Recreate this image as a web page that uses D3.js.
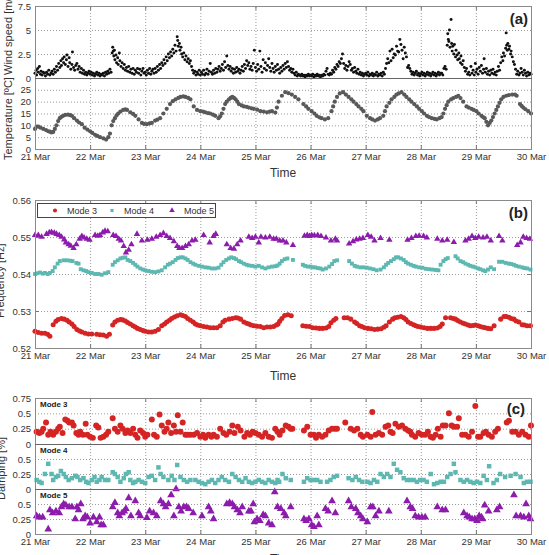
<!DOCTYPE html>
<html>
<head>
<meta charset="utf-8">
<script src="https://cdn.jsdelivr.net/npm/d3@7"></script>
<style>
  body { margin: 0; background: #fff; }
  svg { font-family: "Liberation Sans", Arial, sans-serif; }
  .grid line { stroke: #9a9a9a; stroke-dasharray: 1,2; }
  .grid .domain, .axis .domain, .marks .domain { display: none; }
  .axis text { font-size: 9.5px; fill: #333; }
  .marks line { stroke: #777; }
  .ylab { font-size: 11px; fill: #333; }
  .xlab { font-size: 12px; fill: #333; }
  .tag { font-size: 15px; font-weight: bold; fill: #222; }
  .mode { font-size: 8px; font-weight: bold; fill: #222; }
  .legend text { font-size: 9px; fill: #333; }
</style>
</head>
<body>
<svg id="chart" width="549" height="555"></svg>
<script>
// Time axis (days of March)
const dayTicks = [21, 22, 23, 24, 25, 26, 27, 28, 29, 30]
const dayLabels = ["21 Mar", "22 Mar", "23 Mar", "24 Mar", "25 Mar", "26 Mar", "27 Mar", "28 Mar", "29 Mar", "30 Mar"]

// Panel (a): wind speed and temperature
const windTicks = [0, 2.5, 5, 7.5]
const tempTicks = [0, 5, 10, 15, 20, 25]
const windSpeed = [
  [21.00,0.5],[21.02,0.8],[21.03,0.3],[21.05,1.0],[21.06,0.6],[21.08,1.2],[21.10,0.4],[21.11,0.7],[21.13,0.3],[21.15,0.6],
  [21.17,0.5],[21.19,0.2],[21.21,0.6],[21.23,0.4],[21.25,0.8],[21.27,0.3],[21.29,0.5],[21.31,0.7],[21.33,0.4],[21.35,0.9],
  [21.37,0.6],[21.39,1.2],[21.41,0.8],[21.43,1.5],[21.45,1.1],[21.47,1.8],[21.48,1.3],[21.50,2.0],[21.52,1.6],[21.53,2.2],
  [21.55,1.4],[21.57,1.9],[21.58,2.4],[21.60,1.2],[21.62,2.1],[21.63,1.6],[21.65,0.9],[21.67,1.4],[21.68,2.7],[21.70,1.1],
  [21.72,0.8],[21.74,1.3],[21.76,1.5],[21.78,0.9],[21.80,1.2],[21.82,0.6],[21.84,1.0],[21.86,0.5],[21.88,0.8],[21.90,0.4],
  [21.92,0.6],[21.94,0.3],[21.96,0.5],[21.98,0.7],
  [22.00,0.4],[22.02,0.6],[22.04,0.3],[22.06,0.5],[22.08,0.2],[22.10,0.4],[22.12,0.6],[22.14,0.3],[22.16,0.5],[22.18,0.2],
  [22.20,0.4],[22.22,0.3],[22.24,0.5],[22.26,0.2],[22.28,0.6],[22.30,0.4],[22.32,0.7],[22.34,0.5],[22.36,0.9],[22.38,0.6],
  [22.40,2.6],[22.41,3.2],[22.42,2.8],[22.43,2.3],[22.44,2.9],[22.45,1.9],[22.47,2.4],[22.48,1.6],[22.50,2.1],[22.51,1.4],
  [22.53,2.6],[22.54,1.8],[22.56,1.2],[22.58,1.6],[22.60,1.0],[22.62,1.4],[22.64,0.8],[22.66,1.1],[22.68,0.7],[22.70,1.2],
  [22.72,0.6],[22.74,0.9],[22.76,0.5],[22.78,1.0],[22.80,0.4],[22.82,0.8],[22.84,0.6],[22.86,1.0],[22.88,0.5],[22.90,0.9],
  [22.92,0.3],[22.94,0.7],[22.96,1.0],[22.98,0.5],
  [23.00,0.6],[23.02,0.3],[23.04,0.8],[23.06,0.5],[23.08,1.0],[23.10,0.4],[23.12,0.7],[23.14,0.9],[23.16,0.5],[23.18,1.0],
  [23.20,0.6],[23.22,1.2],[23.24,0.8],[23.26,1.4],[23.28,1.0],[23.30,1.6],[23.32,1.3],[23.34,1.9],[23.36,1.5],[23.38,2.2],
  [23.40,1.8],[23.42,2.5],[23.44,2.1],[23.46,2.7],[23.48,2.3],[23.50,3.0],[23.52,2.6],[23.54,3.4],[23.56,2.8],[23.58,4.3],
  [23.59,3.9],[23.60,3.3],[23.62,3.6],[23.63,2.9],[23.65,3.2],[23.66,2.5],[23.68,2.2],[23.70,2.6],[23.72,1.9],[23.74,2.3],
  [23.76,1.7],[23.78,2.0],[23.80,1.5],[23.82,1.8],[23.84,1.2],[23.86,0.8],[23.88,0.5],[23.90,0.7],[23.92,0.3],[23.94,0.6],
  [23.96,0.4],[23.98,0.8],
  [24.00,0.3],[24.02,0.6],[24.04,0.4],[24.06,0.8],[24.08,0.3],[24.10,0.5],[24.12,0.9],[24.14,0.4],[24.16,0.7],[24.18,1.5],
  [24.20,0.6],[24.22,0.4],[24.24,0.8],[24.26,0.5],[24.28,1.0],[24.30,0.6],[24.32,0.9],[24.34,1.2],[24.36,0.7],[24.38,1.0],
  [24.40,1.4],[24.42,0.8],[24.44,1.7],[24.46,1.1],[24.48,2.3],[24.50,1.3],[24.52,0.9],[24.54,1.2],[24.56,0.7],[24.58,1.0],
  [24.60,0.5],[24.62,0.9],[24.64,0.6],[24.66,1.1],[24.68,0.7],[24.70,0.9],[24.72,0.5],[24.74,0.8],[24.76,1.2],[24.78,0.7],
  [24.80,1.4],[24.82,1.0],[24.84,1.8],[24.86,1.3],[24.88,1.6],[24.90,0.9],[24.92,1.2],[24.94,0.8],[24.96,1.5],[24.98,2.9],
  [25.00,1.1],[25.02,0.7],[25.04,1.4],[25.06,0.9],[25.08,2.8],[25.10,1.2],[25.12,0.6],[25.14,1.9],[25.16,1.0],[25.18,1.6],
  [25.20,0.8],[25.22,1.3],[25.24,2.0],[25.26,1.1],[25.28,0.7],[25.30,1.5],[25.32,1.0],[25.34,0.6],[25.36,1.2],[25.38,0.8],
  [25.40,1.4],[25.42,0.9],[25.44,0.5],[25.46,1.1],[25.48,0.7],[25.50,1.3],[25.52,0.9],[25.54,1.5],[25.56,1.1],[25.58,1.7],
  [25.60,1.2],[25.62,0.8],[25.64,1.0],[25.66,0.6],[25.68,0.9],[25.70,0.5],[25.72,0.3],[25.74,0.6],[25.76,0.2],[25.78,0.4],
  [25.80,0.3],[25.82,0.2],[25.84,0.4],[25.86,0.2],[25.88,0.3],[25.90,0.1],[25.92,0.3],[25.94,0.2],[25.96,0.4],[25.98,0.2],
  [26.00,0.3],[26.02,0.2],[26.04,0.4],[26.06,0.1],[26.08,0.3],[26.10,0.2],[26.12,0.4],[26.14,0.2],[26.16,0.3],[26.18,0.1],
  [26.20,0.3],[26.22,0.2],[26.24,0.4],[26.26,0.3],[26.28,0.7],[26.30,1.0],[26.32,0.4],[26.34,0.3],[26.36,0.5],[26.38,0.4],
  [26.40,0.8],[26.42,0.6],[26.44,1.1],[26.46,0.9],[26.48,1.4],[26.50,1.2],[26.52,1.7],[26.54,1.5],[26.56,2.0],[26.58,2.5],
  [26.60,1.5],[26.62,1.0],[26.64,1.3],[26.66,0.8],[26.68,1.2],[26.70,1.7],[26.72,1.4],[26.74,0.8],[26.76,1.0],[26.78,0.6],
  [26.80,1.1],[26.82,0.7],[26.84,0.5],[26.86,0.9],[26.88,0.4],[26.90,0.6],[26.92,0.3],[26.94,0.5],[26.96,0.2],[26.98,0.4],
  [27.00,0.5],[27.02,0.3],[27.04,0.6],[27.06,0.2],[27.08,0.4],[27.10,0.3],[27.12,0.5],[27.14,0.2],[27.16,0.4],[27.18,0.3],
  [27.20,0.6],[27.22,0.2],[27.24,0.4],[27.26,0.3],[27.28,0.5],[27.30,0.2],[27.32,0.6],[27.34,0.4],[27.36,1.0],[27.38,1.5],
  [27.40,2.0],[27.42,1.6],[27.44,2.8],[27.46,1.8],[27.48,3.0],[27.50,2.1],[27.52,2.5],[27.54,2.4],[27.56,3.3],[27.58,2.8],
  [27.60,2.7],[27.62,4.0],[27.64,3.5],[27.66,2.9],[27.68,2.0],[27.70,3.2],[27.72,2.6],[27.74,2.2],[27.76,1.1],[27.78,1.3],
  [27.80,1.0],[27.82,0.7],[27.84,0.4],[27.86,0.6],[27.88,0.3],[27.90,0.5],[27.92,0.7],[27.94,0.3],[27.96,0.5],[27.98,0.2],
  [28.00,0.4],[28.02,0.6],[28.04,0.3],[28.06,0.5],[28.08,0.2],[28.10,0.4],[28.12,0.6],[28.14,0.3],[28.16,0.5],[28.18,0.2],
  [28.20,0.4],[28.22,0.6],[28.24,0.3],[28.26,0.5],[28.28,0.2],[28.30,0.4],[28.32,0.6],[28.34,0.3],[28.36,0.5],[28.38,0.5],
  [28.40,0.3],[28.42,1.0],[28.44,1.2],[28.46,0.9],[28.48,3.4],[28.49,4.6],[28.50,4.0],[28.51,3.8],[28.52,5.0],[28.53,3.2],
  [28.55,6.1],[28.56,3.6],[28.57,2.8],[28.58,3.3],[28.60,2.5],[28.61,3.5],[28.63,2.2],[28.64,2.9],[28.66,2.4],[28.67,1.9],
  [28.69,2.6],[28.70,2.0],[28.72,1.6],[28.73,2.3],[28.75,1.4],[28.77,1.8],[28.79,1.1],[28.81,0.7],[28.83,1.0],[28.85,0.4],
  [28.87,0.6],[28.89,0.3],[28.91,1.2],[28.93,0.5],[28.95,0.8],[28.97,0.3],[28.99,1.5],
  [29.00,0.6],[29.02,0.9],[29.04,0.4],[29.06,1.1],[29.08,0.7],[29.10,1.3],[29.12,0.5],[29.14,0.9],[29.15,2.0],[29.17,0.6],
  [29.19,1.0],[29.21,0.4],[29.23,0.7],[29.25,0.3],[29.27,0.8],[29.29,0.5],[29.31,0.9],[29.33,0.4],[29.35,0.6],[29.37,0.3],
  [29.39,0.7],[29.41,1.2],[29.43,0.8],[29.45,1.6],[29.47,2.2],[29.49,1.8],[29.50,2.6],[29.52,2.3],[29.54,3.1],[29.55,4.7],
  [29.56,3.4],[29.57,2.9],[29.58,3.6],[29.60,3.0],[29.61,3.3],[29.63,2.5],[29.64,2.8],[29.66,2.2],[29.68,1.7],[29.70,1.4],
  [29.72,0.9],[29.74,0.4],[29.76,0.7],[29.78,0.3],[29.80,0.5],[29.82,1.0],[29.84,0.6],[29.86,0.3],[29.88,0.8],[29.90,0.5],
  [29.92,0.2],[29.94,0.6],[29.96,0.3],[29.98,0.5],[30.00,0.4]
]
const temperature = [
  [21.00,8.5],[21.03,9.5],[21.06,9.5],[21.10,9],[21.15,8.5],[21.20,8],[21.24,7.5],[21.27,7.3],[21.30,7],[21.33,7.2],
  [21.36,8.5],[21.39,10],[21.42,11.8],[21.45,13],[21.48,13.6],[21.51,14],[21.55,14.4],[21.60,14.5],[21.64,14.3],[21.67,14],
  [21.71,13],[21.76,12],[21.80,11.2],[21.85,10.5],[21.90,9],[21.95,8.2],[22.00,7.5],[22.04,6.8],[22.09,6],[22.13,5.5],
  [22.18,5],[22.24,4.5],[22.29,4],[22.33,5],[22.36,6.5],[22.39,10],[22.42,11.8],[22.45,13],[22.48,14.2],[22.51,15],
  [22.55,15.8],[22.60,16.5],[22.64,16.7],[22.67,16.5],[22.73,15.5],[22.78,14.8],[22.82,14],[22.88,12.5],[22.94,11],[22.98,10.6],
  [23.03,10.5],[23.08,10.8],[23.12,11],[23.18,12],[23.22,12.4],[23.27,13],[23.33,15],[23.39,17],[23.45,19],[23.50,20.2],
  [23.55,21],[23.60,21.6],[23.64,22],[23.69,22.2],[23.73,22],[23.78,21.6],[23.82,21],[23.88,18],[23.94,16.5],[24.00,16],
  [24.05,15.8],[24.09,15.5],[24.14,15.2],[24.18,15],[24.23,14.5],[24.27,14],[24.33,13],[24.36,13.8],[24.39,15],[24.42,17],
  [24.45,19],[24.48,20],[24.52,21],[24.55,21.6],[24.58,22],[24.61,21.6],[24.64,21],[24.67,20],[24.70,19],[24.75,18.4],
  [24.79,18],[24.84,17.8],[24.88,17.5],[24.93,17.2],[24.97,17],[25.03,16.6],[25.09,16],[25.15,15.8],[25.21,15.5],[25.26,15.8],
  [25.30,16],[25.36,15.4],[25.39,17.5],[25.42,20],[25.48,22.5],[25.54,24],[25.60,23.6],[25.66,23],[25.72,22],[25.78,21],
  [25.87,19],[25.92,18],[25.96,17],[26.02,16],[26.07,15],[26.11,14],[26.16,13.4],[26.20,13],[26.26,12.5],[26.32,13],
  [26.38,16],[26.41,18],[26.44,20],[26.48,22],[26.53,23.5],[26.59,24],[26.64,23],[26.69,22],[26.74,21],[26.78,20],
  [26.83,19],[26.87,18],[26.92,17],[26.96,16],[27.02,14],[27.08,13],[27.12,12.5],[27.17,12],[27.22,12.5],[27.26,13],
  [27.32,14],[27.35,16],[27.38,18],[27.43,19.5],[27.47,21],[27.52,22],[27.56,23],[27.60,23.5],[27.65,24],[27.70,23],
  [27.74,22],[27.79,21],[27.83,20],[27.88,19],[27.93,18],[27.97,17],[28.02,16],[28.06,15],[28.11,14],[28.15,13.5],
  [28.20,13],[28.25,12.7],[28.29,12.5],[28.34,13],[28.38,13.5],[28.41,15],[28.44,17],[28.47,18.5],[28.50,20],[28.55,21],
  [28.59,21.5],[28.64,22],[28.68,22.5],[28.72,21.5],[28.77,20],[28.83,18],[28.87,17.5],[28.92,17],[28.96,16.5],[29.01,16],
  [29.05,15],[29.10,14],[29.13,13.5],[29.16,13],[29.19,11.5],[29.22,10],[29.25,11],[29.28,12],[29.31,13.5],[29.34,15],
  [29.37,16.5],[29.40,18],[29.43,19.5],[29.46,21],[29.50,22],[29.55,22.5],[29.60,22.8],[29.66,23],[29.71,23],[29.74,22.5],
  [29.80,19],[29.83,18.2],[29.86,17.5],[29.90,16.8],[29.95,16],[30.00,15]
]

// Panel (b): natural frequencies [Hz]
const freqTicks = [0.52, 0.53, 0.54, 0.55, 0.56]
const modeNames = ["Mode 3", "Mode 4", "Mode 5"]
const freqMode3 = [
  [21.00,0.5245],[21.06,0.5242],[21.12,0.5240],[21.18,0.5240],[21.23,0.5237],[21.27,0.5232],[21.33,0.5263],[21.38,0.5272],
  [21.42,0.5277],[21.48,0.5280],[21.53,0.5278],[21.58,0.5275],[21.62,0.5270],[21.67,0.5265],[21.71,0.5258],[21.76,0.5250],
  [21.81,0.5246],[21.85,0.5243],[21.91,0.5240],[21.97,0.5238],[22.03,0.5238],[22.12,0.5237],[22.18,0.5236],[22.24,0.5235],
  [22.30,0.5232],[22.35,0.5237],[22.41,0.5262],[22.45,0.5270],[22.50,0.5275],[22.55,0.5277],[22.59,0.5276],[22.64,0.5273],
  [22.68,0.5269],[22.73,0.5265],[22.78,0.5260],[22.82,0.5257],[22.86,0.5253],[22.91,0.5250],[22.96,0.5247],[23.00,0.5245],
  [23.06,0.5243],[23.12,0.5243],[23.18,0.5245],[23.24,0.5250],[23.30,0.5260],[23.35,0.5265],[23.39,0.5270],[23.44,0.5275],
  [23.48,0.5280],[23.53,0.5284],[23.58,0.5287],[23.64,0.5290],[23.68,0.5288],[23.73,0.5285],[23.77,0.5280],[23.82,0.5275],
  [23.87,0.5270],[23.91,0.5265],[23.95,0.5262],[24.00,0.5260],[24.06,0.5258],[24.12,0.5257],[24.18,0.5255],[24.24,0.5255],
  [24.30,0.5255],[24.36,0.5260],[24.41,0.5270],[24.45,0.5275],[24.52,0.5278],[24.58,0.5280],[24.64,0.5282],[24.68,0.5281],
  [24.73,0.5278],[24.79,0.5270],[24.84,0.5267],[24.88,0.5265],[24.92,0.5262],[24.97,0.5260],[25.03,0.5259],[25.09,0.5258],
  [25.15,0.5255],[25.21,0.5257],[25.27,0.5257],[25.33,0.5258],[25.38,0.5262],[25.41,0.5265],[25.44,0.5272],[25.48,0.5280],
  [25.53,0.5288],[25.59,0.5290],[25.65,0.5287],[25.86,0.5260],[25.92,0.5259],[25.98,0.5258],[26.04,0.5255],[26.10,0.5254],
  [26.16,0.5253],[26.22,0.5253],[26.28,0.5254],[26.33,0.5258],[26.37,0.5268],[26.42,0.5275],[26.46,0.5280],[26.61,0.5282],
  [26.67,0.5282],[26.73,0.5278],[26.80,0.5270],[26.84,0.5266],[26.89,0.5260],[26.93,0.5258],[26.98,0.5255],[27.04,0.5253],
  [27.10,0.5252],[27.16,0.5250],[27.22,0.5251],[27.28,0.5252],[27.33,0.5256],[27.37,0.5260],[27.43,0.5270],[27.49,0.5278],
  [27.53,0.5282],[27.58,0.5283],[27.64,0.5285],[27.69,0.5282],[27.73,0.5277],[27.77,0.5270],[27.82,0.5266],[27.87,0.5263],
  [27.91,0.5260],[27.95,0.5258],[28.00,0.5257],[28.06,0.5255],[28.12,0.5253],[28.18,0.5253],[28.24,0.5253],[28.30,0.5254],
  [28.35,0.5258],[28.39,0.5265],[28.45,0.5282],[28.54,0.5282],[28.59,0.5280],[28.63,0.5278],[28.67,0.5274],[28.72,0.5270],
  [28.77,0.5267],[28.81,0.5265],[28.86,0.5262],[28.90,0.5260],[28.95,0.5261],[28.99,0.5262],[29.04,0.5260],[29.08,0.5258],
  [29.13,0.5256],[29.17,0.5255],[29.22,0.5253],[29.27,0.5252],[29.33,0.5260],[29.45,0.5278],[29.51,0.5285],[29.55,0.5285],
  [29.60,0.5283],[29.64,0.5280],[29.69,0.5278],[29.73,0.5273],[29.78,0.5270],[29.84,0.5263],[29.88,0.5262],[29.93,0.5260],
  [29.99,0.5260]
]
const freqMode4 = [
  [21.00,0.5400],[21.04,0.5402],[21.09,0.5404],[21.14,0.5401],[21.18,0.5403],[21.23,0.5400],[21.27,0.5403],[21.32,0.5408],
  [21.36,0.5418],[21.41,0.5428],[21.45,0.5435],[21.52,0.5437],[21.58,0.5437],[21.64,0.5436],[21.68,0.5435],[21.75,0.5430],
  [21.79,0.5428],[21.83,0.5413],[21.88,0.5410],[21.93,0.5408],[21.97,0.5405],[22.03,0.5403],[22.09,0.5400],[22.15,0.5400],
  [22.21,0.5398],[22.27,0.5402],[22.33,0.5405],[22.41,0.5425],[22.45,0.5432],[22.50,0.5437],[22.55,0.5442],[22.59,0.5444],
  [22.64,0.5445],[22.68,0.5438],[22.73,0.5435],[22.78,0.5430],[22.82,0.5425],[22.86,0.5420],[22.91,0.5415],[22.96,0.5412],
  [23.00,0.5410],[23.06,0.5408],[23.12,0.5406],[23.18,0.5405],[23.24,0.5407],[23.30,0.5410],[23.36,0.5418],[23.41,0.5425],
  [23.45,0.5428],[23.50,0.5432],[23.55,0.5438],[23.59,0.5443],[23.64,0.5445],[23.68,0.5445],[23.73,0.5442],[23.77,0.5438],
  [23.82,0.5432],[23.87,0.5428],[23.91,0.5425],[23.97,0.5422],[24.03,0.5420],[24.09,0.5418],[24.15,0.5417],[24.21,0.5415],
  [24.27,0.5415],[24.33,0.5417],[24.38,0.5425],[24.42,0.5432],[24.47,0.5438],[24.52,0.5442],[24.56,0.5445],[24.61,0.5443],
  [24.65,0.5440],[24.70,0.5435],[24.74,0.5432],[24.79,0.5428],[24.84,0.5425],[24.88,0.5423],[24.94,0.5422],[25.00,0.5420],
  [25.06,0.5422],[25.12,0.5418],[25.18,0.5415],[25.24,0.5418],[25.30,0.5420],[25.36,0.5421],[25.40,0.5423],[25.44,0.5428],
  [25.48,0.5435],[25.53,0.5440],[25.58,0.5442],[25.68,0.5438],[25.86,0.5425],[25.90,0.5422],[25.95,0.5420],[26.00,0.5420],
  [26.04,0.5418],[26.08,0.5418],[26.13,0.5416],[26.18,0.5415],[26.22,0.5412],[26.28,0.5415],[26.34,0.5420],[26.39,0.5427],
  [26.43,0.5435],[26.48,0.5437],[26.70,0.5435],[26.75,0.5428],[26.80,0.5422],[26.84,0.5420],[26.90,0.5418],[26.96,0.5418],
  [27.02,0.5417],[27.08,0.5415],[27.14,0.5413],[27.20,0.5410],[27.27,0.5412],[27.33,0.5418],[27.37,0.5425],[27.41,0.5430],
  [27.46,0.5435],[27.51,0.5440],[27.55,0.5445],[27.59,0.5445],[27.64,0.5442],[27.69,0.5438],[27.73,0.5432],[27.77,0.5428],
  [27.82,0.5425],[27.87,0.5422],[27.91,0.5420],[27.97,0.5418],[28.03,0.5417],[28.09,0.5414],[28.15,0.5413],[28.21,0.5412],
  [28.27,0.5411],[28.32,0.5410],[28.36,0.5425],[28.41,0.5435],[28.45,0.5440],[28.49,0.5443],[28.63,0.5448],[28.67,0.5442],
  [28.72,0.5435],[28.77,0.5432],[28.81,0.5428],[28.86,0.5425],[28.90,0.5422],[28.95,0.5420],[28.99,0.5418],[29.04,0.5415],
  [29.08,0.5413],[29.13,0.5410],[29.17,0.5408],[29.22,0.5412],[29.27,0.5418],[29.33,0.5413],[29.42,0.5433],[29.48,0.5433],
  [29.54,0.5430],[29.60,0.5428],[29.64,0.5427],[29.69,0.5425],[29.73,0.5422],[29.78,0.5420],[29.84,0.5418],[29.88,0.5416],
  [29.93,0.5415],[29.99,0.5412]
]
const freqMode5 = [
  [21.00,0.5505],[21.06,0.5505],[21.12,0.5500],[21.21,0.5508],[21.26,0.5512],[21.30,0.5513],[21.35,0.5511],[21.39,0.5508],
  [21.44,0.5505],[21.48,0.5500],[21.53,0.5493],[21.56,0.5485],[21.61,0.5480],[21.65,0.5476],[21.70,0.5470],[21.75,0.5480],
  [21.81,0.5495],[21.85,0.5502],[21.89,0.5498],[21.94,0.5495],[21.99,0.5492],[22.09,0.5505],[22.14,0.5503],[22.18,0.5505],
  [22.23,0.5512],[22.27,0.5516],[22.32,0.5515],[22.42,0.5505],[22.47,0.5502],[22.52,0.5495],[22.56,0.5490],[22.61,0.5475],
  [22.65,0.5458],[22.70,0.5465],[22.75,0.5480],[22.85,0.5508],[22.94,0.5490],[23.04,0.5492],[23.12,0.5495],[23.20,0.5500],
  [23.27,0.5505],[23.33,0.5510],[23.39,0.5502],[23.45,0.5497],[23.52,0.5488],[23.58,0.5475],[23.62,0.5470],[23.67,0.5470],
  [23.73,0.5475],[23.79,0.5480],[23.85,0.5490],[23.91,0.5492],[24.06,0.5505],[24.17,0.5485],[24.24,0.5502],[24.28,0.5508],
  [24.48,0.5480],[24.55,0.5470],[24.61,0.5468],[24.67,0.5480],[24.73,0.5490],[24.88,0.5500],[24.94,0.5497],[25.00,0.5500],
  [25.06,0.5485],[25.10,0.5500],[25.18,0.5498],[25.26,0.5500],[25.33,0.5495],[25.38,0.5495],[25.44,0.5490],[25.50,0.5490],
  [25.56,0.5485],[25.68,0.5478],[25.89,0.5503],[25.94,0.5505],[25.98,0.5502],[26.02,0.5505],[26.07,0.5504],[26.13,0.5505],
  [26.19,0.5502],[26.28,0.5498],[26.37,0.5490],[26.45,0.5495],[26.48,0.5490],[26.70,0.5482],[26.77,0.5488],[26.83,0.5493],
  [26.89,0.5495],[26.95,0.5497],[27.04,0.5505],[27.10,0.5500],[27.16,0.5490],[27.27,0.5497],[27.43,0.5492],[27.76,0.5492],
  [27.83,0.5497],[27.91,0.5502],[27.97,0.5503],[28.05,0.5502],[28.11,0.5498],[28.30,0.5495],[28.39,0.5490],[28.48,0.5492],
  [28.60,0.5486],[28.81,0.5490],[28.87,0.5495],[28.93,0.5502],[28.99,0.5497],[29.05,0.5500],[29.13,0.5498],[29.20,0.5500],
  [29.27,0.5490],[29.42,0.5502],[29.48,0.5490],[29.75,0.5478],[29.81,0.5485],[29.86,0.5500],[29.92,0.5497],[29.98,0.5495]
]

// Panel (c): damping ratios [%]
const dampTicks = [0, 0.25, 0.5, 0.75]
const dampMode3 = [
  [21.03,0.2],[21.08,0.18],[21.12,0.2],[21.15,0.25],[21.20,0.35],[21.24,0.15],[21.28,0.2],[21.33,0.15],[21.38,0.2],[21.42,0.25],
  [21.45,0.28],[21.50,0.18],[21.55,0.4],[21.59,0.38],[21.62,0.35],[21.67,0.35],[21.70,0.3],[21.75,0.18],[21.79,0.15],[21.82,0.2],
  [21.87,0.15],[21.92,0.33],[21.95,0.15],[22.00,0.12],[22.05,0.1],[22.11,0.3],[22.15,0.27],[22.19,0.1],[22.24,0.12],[22.29,0.15],
  [22.33,0.2],[22.41,0.42],[22.45,0.25],[22.50,0.2],[22.55,0.3],[22.59,0.25],[22.64,0.18],[22.68,0.22],[22.73,0.18],[22.78,0.25],
  [22.82,0.15],[22.86,0.1],[22.91,0.22],[22.96,0.18],[23.00,0.12],[23.04,0.15],[23.12,0.4],[23.16,0.15],[23.21,0.12],[23.26,0.48],
  [23.30,0.3],[23.35,0.2],[23.39,0.25],[23.42,0.35],[23.47,0.18],[23.52,0.3],[23.56,0.2],[23.59,0.47],[23.64,0.2],[23.68,0.35],
  [23.73,0.15],[23.77,0.15],[23.82,0.15],[23.88,0.15],[23.94,0.18],[24.00,0.12],[24.05,0.15],[24.09,0.1],[24.15,0.15],[24.20,0.12],
  [24.24,0.15],[24.30,0.12],[24.36,0.25],[24.42,0.18],[24.47,0.15],[24.53,0.2],[24.58,0.3],[24.62,0.18],[24.68,0.28],[24.73,0.22],
  [24.80,0.12],[24.85,0.18],[24.90,0.15],[24.95,0.2],[25.00,0.18],[25.06,0.15],[25.12,0.12],[25.18,0.18],[25.24,0.12],[25.30,0.1],
  [25.36,0.25],[25.40,0.2],[25.44,0.15],[25.49,0.22],[25.55,0.3],[25.60,0.28],[25.64,0.25],[25.67,0.25],[25.88,0.22],[25.94,0.28],
  [26.00,0.15],[26.06,0.15],[26.10,0.1],[26.15,0.15],[26.21,0.12],[26.27,0.15],[26.33,0.22],[26.39,0.25],[26.44,0.25],[26.48,0.25],
  [26.63,0.35],[26.73,0.25],[26.79,0.22],[26.85,0.25],[26.91,0.15],[26.95,0.12],[27.03,0.15],[27.09,0.12],[27.12,0.52],[27.18,0.15],
  [27.24,0.18],[27.30,0.15],[27.36,0.28],[27.41,0.3],[27.45,0.2],[27.49,0.18],[27.54,0.33],[27.60,0.28],[27.66,0.3],[27.72,0.25],
  [27.77,0.22],[27.81,0.2],[27.84,0.15],[27.90,0.12],[27.96,0.18],[28.02,0.15],[28.08,0.15],[28.13,0.2],[28.18,0.12],[28.22,0.1],
  [28.27,0.15],[28.31,0.25],[28.36,0.12],[28.40,0.3],[28.45,0.3],[28.51,0.5],[28.56,0.3],[28.60,0.28],[28.66,0.28],[28.69,0.42],
  [28.75,0.15],[28.81,0.15],[28.87,0.12],[28.93,0.2],[28.99,0.62],[29.04,0.12],[29.08,0.12],[29.14,0.18],[29.18,0.2],[29.23,0.15],
  [29.29,0.12],[29.35,0.2],[29.40,0.25],[29.56,0.35],[29.60,0.38],[29.66,0.2],[29.72,0.2],[29.78,0.15],[29.84,0.2],[29.90,0.15],
  [29.96,0.12],[30.00,0.3]
]
const dampMode4 = [
  [21.03,0.15],[21.08,0.12],[21.12,0.1],[21.18,0.25],[21.24,0.42],[21.30,0.25],[21.33,0.15],[21.38,0.2],[21.42,0.22],[21.47,0.3],
  [21.52,0.25],[21.56,0.2],[21.61,0.15],[21.67,0.18],[21.73,0.22],[21.77,0.2],[21.82,0.15],[21.88,0.18],[21.93,0.12],[21.97,0.1],
  [22.03,0.15],[22.08,0.2],[22.12,0.12],[22.17,0.15],[22.21,0.2],[22.27,0.15],[22.33,0.15],[22.41,0.28],[22.45,0.25],[22.50,0.2],
  [22.55,0.12],[22.61,0.18],[22.65,0.25],[22.70,0.28],[22.73,0.15],[22.78,0.1],[22.82,0.12],[22.88,0.15],[22.94,0.12],[23.00,0.1],
  [23.06,0.2],[23.12,0.22],[23.18,0.15],[23.24,0.36],[23.28,0.25],[23.33,0.2],[23.42,0.15],[23.48,0.22],[23.53,0.15],[23.58,0.4],
  [23.64,0.2],[23.70,0.15],[23.76,0.12],[23.82,0.15],[23.91,0.15],[23.97,0.12],[24.03,0.1],[24.09,0.08],[24.15,0.12],[24.21,0.15],
  [24.27,0.1],[24.33,0.15],[24.39,0.2],[24.45,0.15],[24.52,0.12],[24.58,0.25],[24.64,0.2],[24.70,0.15],[24.76,0.12],[24.82,0.18],
  [24.88,0.12],[24.94,0.1],[25.00,0.12],[25.06,0.15],[25.12,0.12],[25.18,0.1],[25.24,0.15],[25.30,0.12],[25.36,0.1],[25.40,0.15],
  [25.43,0.12],[25.49,0.25],[25.55,0.18],[25.64,0.15],[25.88,0.12],[25.94,0.18],[26.00,0.15],[26.06,0.15],[26.12,0.15],[26.18,0.12],
  [26.30,0.12],[26.36,0.15],[26.42,0.2],[26.48,0.22],[26.69,0.18],[26.76,0.15],[26.82,0.2],[26.88,0.15],[26.94,0.12],[27.03,0.12],
  [27.09,0.1],[27.15,0.15],[27.21,0.12],[27.27,0.25],[27.33,0.2],[27.39,0.25],[27.45,0.2],[27.51,0.42],[27.57,0.32],[27.63,0.28],
  [27.69,0.18],[27.75,0.15],[27.81,0.15],[27.87,0.15],[27.93,0.12],[27.99,0.15],[28.05,0.15],[28.11,0.12],[28.18,0.25],[28.24,0.08],
  [28.30,0.1],[28.36,0.12],[28.42,0.12],[28.48,0.2],[28.54,0.25],[28.60,0.42],[28.63,0.28],[28.72,0.15],[28.78,0.12],[28.84,0.15],
  [28.90,0.12],[28.96,0.1],[29.02,0.12],[29.08,0.1],[29.14,0.22],[29.20,0.15],[29.24,0.38],[29.32,0.1],[29.38,0.15],[29.44,0.25],
  [29.53,0.2],[29.63,0.22],[29.72,0.25],[29.81,0.2],[29.87,0.1],[29.93,0.12],[29.99,0.12]
]
const dampMode5 = [
  [21.03,0.3],[21.08,0.28],[21.14,0.28],[21.24,0.08],[21.27,0.4],[21.32,0.35],[21.38,0.38],[21.44,0.35],[21.48,0.45],[21.52,0.5],
  [21.56,0.48],[21.62,0.45],[21.67,0.45],[21.73,0.25],[21.76,0.45],[21.79,0.4],[21.83,0.5],[21.87,0.25],[21.91,0.3],[21.95,0.28],
  [22.00,0.18],[22.06,0.28],[22.12,0.2],[22.17,0.28],[22.20,0.15],[22.24,0.15],[22.41,0.45],[22.45,0.52],[22.50,0.35],[22.53,0.3],
  [22.58,0.35],[22.62,0.38],[22.65,0.42],[22.70,0.6],[22.74,0.3],[22.82,0.55],[22.88,0.35],[22.91,0.3],[23.03,0.27],[23.08,0.38],
  [23.15,0.35],[23.21,0.3],[23.28,0.55],[23.33,0.5],[23.37,0.45],[23.42,0.5],[23.47,0.65],[23.52,0.3],[23.56,0.75],[23.61,0.45],
  [23.65,0.38],[23.70,0.45],[23.75,0.45],[23.79,0.42],[23.87,0.35],[24.03,0.3],[24.15,0.45],[24.19,0.38],[24.24,0.25],[24.48,0.5],
  [24.53,0.52],[24.58,0.5],[24.62,0.45],[24.67,0.4],[24.72,0.35],[24.76,0.45],[24.88,0.38],[24.92,0.38],[24.96,0.5],[24.98,0.2],
  [25.03,0.25],[25.08,0.22],[25.14,0.32],[25.18,0.3],[25.24,0.18],[25.30,0.15],[25.35,0.7],[25.40,0.45],[25.46,0.42],[25.52,0.35],
  [25.55,0.3],[25.64,0.45],[25.88,0.25],[25.92,0.22],[25.97,0.25],[26.02,0.15],[26.06,0.12],[26.12,0.3],[26.15,0.15],[26.27,0.42],
  [26.32,0.38],[26.39,0.55],[26.45,0.35],[26.69,0.55],[26.74,0.45],[26.82,0.42],[26.86,0.35],[26.91,0.3],[26.95,0.25],[27.03,0.2],
  [27.09,0.45],[27.13,0.45],[27.18,0.3],[27.24,0.38],[27.42,0.38],[27.75,0.55],[27.81,0.45],[27.85,0.42],[27.90,0.3],[27.96,0.28],
  [28.02,0.28],[28.08,0.28],[28.30,0.45],[28.39,0.4],[28.45,0.4],[28.78,0.35],[28.84,0.3],[28.88,0.28],[28.93,0.25],[28.98,0.25],
  [29.02,0.22],[29.06,0.3],[29.10,0.28],[29.12,0.25],[29.16,0.48],[29.23,0.38],[29.38,0.4],[29.43,0.45],[29.69,0.65],[29.73,0.3],
  [29.81,0.3],[29.87,0.28],[29.91,0.5],[29.96,0.3],[29.99,0.25]
]

const colors = ["#d42424", "#5cb8b0", "#8c1cab"]
const svg = d3.select("#chart")
const left = 35, right = 531

// Shared time scale
const x = d3.scaleLinear().domain([21, 30]).range([left, right])

// Panel scales
const yWind = d3.scaleLinear().domain([0, 7.5]).range([78, 6])
const yTemp = d3.scaleLinear().domain([0, 30]).range([149, 78])
const yFreq = d3.scaleLinear().domain([0.52, 0.56]).range([348, 200])
const yDamp = [
  d3.scaleLinear().domain([0, 0.75]).range([444, 398]),
  d3.scaleLinear().domain([0, 0.75]).range([489, 444]),
  d3.scaleLinear().domain([0, 0.75]).range([534, 489])
]

// Dotted grid lines
function dayGrid(top, bottom) {
  svg.append("g").attr("class", "grid")
    .attr("transform", `translate(0,${bottom})`)
    .call(d3.axisBottom(x).tickValues(dayTicks.slice(1, -1)).tickSize(-(bottom - top)).tickFormat(""))
}
function valueGrid(y, values) {
  svg.append("g").attr("class", "grid")
    .attr("transform", `translate(${left},0)`)
    .call(d3.axisLeft(y).tickValues(values).tickSize(-(right - left)).tickFormat(""))
}

// Small inward tick marks on the frame
function frameTicks(top, bottom, y, values) {
  svg.append("g").attr("class", "marks").attr("transform", `translate(0,${bottom})`)
    .call(d3.axisBottom(x).tickValues(dayTicks).tickSize(-4).tickFormat(""))
  svg.append("g").attr("class", "marks").attr("transform", `translate(0,${top})`)
    .call(d3.axisTop(x).tickValues(dayTicks).tickSize(-4).tickFormat(""))
  if (y) {
    svg.append("g").attr("class", "marks").attr("transform", `translate(${left},0)`)
      .call(d3.axisLeft(y).tickValues(values).tickSize(-4).tickFormat(""))
    svg.append("g").attr("class", "marks").attr("transform", `translate(${right},0)`)
      .call(d3.axisRight(y).tickValues(values).tickSize(-4).tickFormat(""))
  }
}

function yLabels(y, values, fmt) {
  svg.append("g").attr("class", "axis")
    .attr("transform", `translate(${left},0)`)
    .call(d3.axisLeft(y).tickValues(values).tickSize(0).tickPadding(4).tickFormat(fmt))
}
function xLabels(bottom) {
  svg.append("g").attr("class", "axis")
    .attr("transform", `translate(0,${bottom})`)
    .call(d3.axisBottom(x).tickValues(dayTicks).tickSize(0).tickPadding(4).tickFormat((d, i) => dayLabels[i]))
}
function frame(top, bottom) {
  svg.append("rect")
    .attr("x", left + 0.5).attr("y", top + 0.5)
    .attr("width", right - left).attr("height", bottom - top)
    .attr("fill", "none").attr("stroke", "#8a8a8a")
}
function divider(yPos) {
  svg.append("line")
    .attr("x1", left).attr("x2", right + 1)
    .attr("y1", yPos + 0.5).attr("y2", yPos + 0.5)
    .attr("stroke", "#666")
}
function points(data, y, type, size, color) {
  svg.append("g").selectAll("path")
    .data(data)
    .join("path")
    .attr("transform", d => `translate(${x(d[0])},${y(d[1])})`)
    .attr("d", d3.symbol().type(type).size(size))
    .attr("fill", color)
}
function yTitle(text, xPos, yStart) {
  svg.append("text").attr("class", "ylab")
    .attr("transform", `translate(${xPos},${yStart}) rotate(-90)`)
    .text(text)
}
function xTitle(yPos) {
  svg.append("text").attr("class", "xlab")
    .attr("x", (left + right) / 2).attr("y", yPos)
    .attr("text-anchor", "middle").text("Time")
}
function tag(text, xPos, yPos) {
  svg.append("text").attr("class", "tag")
    .attr("x", xPos).attr("y", yPos).attr("text-anchor", "end").text(text)
}

/*** Panel (a) ***/
dayGrid(6, 149)
valueGrid(yWind, [2.5, 5])
valueGrid(yTemp, [5, 10, 15, 20, 25])
frameTicks(6, 149)
points(windSpeed, yWind, d3.symbolCircle, 7, "#111")
points(temperature, yTemp, d3.symbolCircle, 14, "#595959")
frame(6, 149)
divider(78)
yLabels(yWind, windTicks, d => d)
yLabels(yTemp, tempTicks, d => d)
xLabels(149)
yTitle("Wind speed [m/s]", 12, 75)
yTitle("Temperature [ºC]", 12, 160)
xTitle(177)
tag("(a)", 528, 24)

/*** Panel (b) ***/
dayGrid(200, 348)
valueGrid(yFreq, [0.53, 0.54, 0.55])
frameTicks(200, 348, yFreq, freqTicks)
points(freqMode3, yFreq, d3.symbolCircle, 20, colors[0])
points(freqMode4, yFreq, d3.symbolSquare, 15, colors[1])
points(freqMode5, yFreq, d3.symbolTriangle, 18, colors[2])
frame(200, 348)
yLabels(yFreq, freqTicks, d3.format(".2f"))
xLabels(348)
yTitle("Frequency [Hz]", 4, 318)
xTitle(380)
tag("(b)", 528, 218)

// Legend
const legend = svg.append("g").attr("class", "legend")
legend.append("rect")
  .attr("x", 37.5).attr("y", 203.5).attr("width", 178).attr("height", 14)
  .attr("fill", "#fff").attr("stroke", "#444")
const legendSymbols = [d3.symbolCircle, d3.symbolSquare, d3.symbolTriangle]
const legendX = [55, 112, 172]
modeNames.forEach((name, i) => {
  legend.append("path")
    .attr("transform", `translate(${legendX[i]},210.5)`)
    .attr("d", d3.symbol().type(legendSymbols[i]).size(i === 1 ? 10 : 13))
    .attr("fill", colors[i])
  legend.append("text")
    .attr("x", legendX[i] + 12).attr("y", 213.5)
    .text(name)
})

/*** Panel (c) ***/
dayGrid(398, 534)
yDamp.forEach(y => valueGrid(y, [0.25, 0.5]))
frameTicks(398, 534)
points(dampMode3, yDamp[0], d3.symbolCircle, 28, colors[0])
points(dampMode4, yDamp[1], d3.symbolSquare, 20, colors[1])
points(dampMode5, yDamp[2], d3.symbolTriangle, 26, colors[2])
frame(398, 534)
divider(444)
divider(489)
yLabels(yDamp[0], dampTicks, d => d)
yLabels(yDamp[1], dampTicks.slice(0, 3), d => d)
yLabels(yDamp[2], dampTicks.slice(0, 3), d => d)
modeNames.forEach((name, i) => {
  svg.append("text").attr("class", "mode")
    .attr("x", 40).attr("y", yDamp[i].range()[1] + 9)
    .text(name)
})
xLabels(534)
yTitle("Damping [%]", 5, 500)
xTitle(563)
tag("(c)", 525, 414)
</script>
</body>
</html>
